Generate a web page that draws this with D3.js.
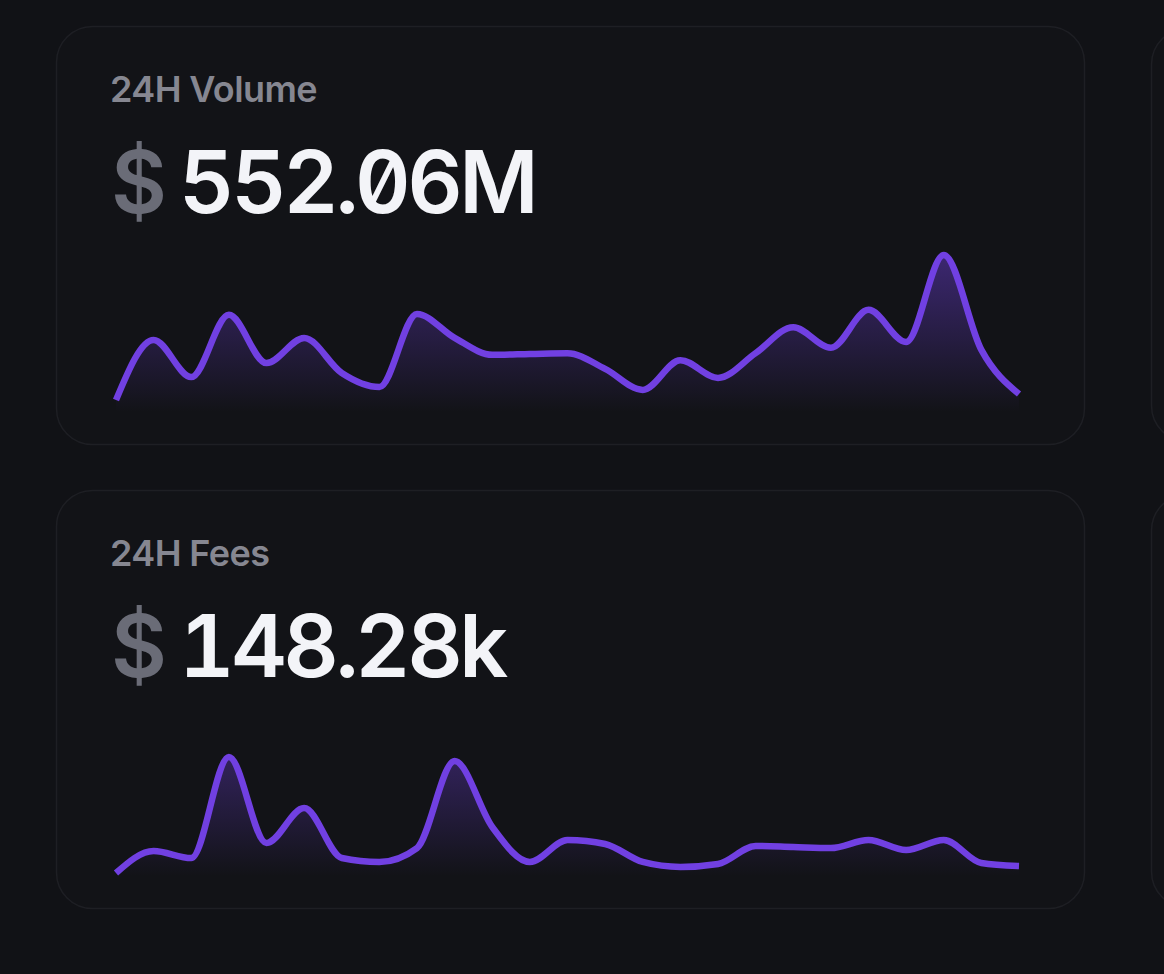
<!DOCTYPE html>
<html>
<head>
<meta charset="utf-8">
<script src="https://cdn.jsdelivr.net/npm/d3@7"></script>
<style>
  html, body { margin: 0; padding: 0; background: #111216; overflow: hidden; }
  svg { display: block; }
  .total { font-feature-settings: "tnum" 1, "zero" 1; }
</style>
</head>
<body>
<script>
// ---- data ----
const hours = ["00","01","02","03","04","05","06","07","08","09","10","11","12",
               "13","14","15","16","17","18","19","20","21","22","23","24"];
const cardTitles = ["24H Volume", "24H Fees"];
const cardTotals = ["552.06M", "148.28k"];
// hourly volume, $M
const volumeValues = [4.85, 19.4, 10.4, 25.5, 13.8, 19.9, 11.4, 8.0, 25.7, 19.9, 15.8, 16.0, 16.2,
                      12.4, 7.3, 14.5, 10.2, 16.2, 22.5, 17.5, 26.7, 18.9, 40.0, 17.0, 6.3];
// hourly fees, $k
const feesValues = [1.33, 4.0, 3.15, 15.4, 4.97, 9.21, 3.15, 2.67, 4.36, 14.9, 6.91, 2.67, 5.33,
                    4.85, 2.67, 2.06, 2.42, 4.61, 4.48, 4.36, 5.33, 4.12, 5.33, 2.55, 2.18];
const yMaxes = [40, 20];

// ---- layout ----
const W = 1164, H = 974;
const cardX = 56, cardW = 1028, cardH = 418, cardR = 36;
const cardTops = [26, 490];
const series = [volumeValues, feesValues];

const svg = d3.select("body").append("svg").attr("width", W).attr("height", H);
svg.append("rect").attr("width", W).attr("height", H).attr("fill", "#111216");

const defs = svg.append("defs");

// partial cards on the right edge
[[28, 413], [494, 413]].forEach(([y, h]) => {
  svg.append("rect").attr("x", 1151.5).attr("y", y + 0.5).attr("width", 200).attr("height", h)
    .attr("rx", cardR).attr("fill", "#121317").attr("stroke", "#1e1f24").attr("stroke-width", 1.5);
});

const x = d3.scalePoint().domain(hours).range([116, 1019]);

cardTops.forEach((top, i) => {
  const g = svg.append("g").attr("transform", `translate(0,${top})`);
  g.append("rect").attr("x", cardX + 0.5).attr("y", 0.5).attr("width", cardW).attr("height", cardH)
    .attr("rx", cardR).attr("fill", "#121317").attr("stroke", "#1e1f24").attr("stroke-width", 1.5);

  g.append("text").attr("x", 110).attr("y", 76)
    .attr("font-family", "Inter, 'Noto Sans', sans-serif").attr("font-weight", 600)
    .attr("font-size", 36).attr("letter-spacing", -0.6).attr("fill", "#868791")
    .text(cardTitles[i]);

  g.append("text").attr("x", 111).attr("y", 187)
    .attr("font-family", "Inter, 'Noto Sans', sans-serif").attr("font-weight", 600)
    .attr("font-size", 86).attr("fill", "#6a6c77")
    .text("$");

  g.append("text").attr("class", "total").attr("x", 179).attr("y", 187)
    .attr("font-family", "Inter, 'Noto Sans', sans-serif").attr("font-weight", 600)
    .attr("font-size", 86).attr("letter-spacing", -3.5).attr("fill", "#f3f4f8")
    .text(cardTotals[i]);

  const y = d3.scaleLinear().domain([0, yMaxes[i]]).range([394, 229]);

  const gid = "grad" + i;
  const grad = defs.append("linearGradient").attr("id", gid)
    .attr("gradientUnits", "userSpaceOnUse")
    .attr("x1", 0).attr("x2", 0).attr("y1", 229).attr("y2", 386);
  grad.append("stop").attr("offset", 0).attr("stop-color", "#7040e0").attr("stop-opacity", 0.45);
  grad.append("stop").attr("offset", 1).attr("stop-color", "#7040e0").attr("stop-opacity", 0);

  const data = hours.map((h, k) => ({ h, v: series[i][k] }));

  const area = d3.area().x(d => x(d.h)).y0(y(0)).y1(d => y(d.v)).curve(d3.curveMonotoneX);
  const line = d3.line().x(d => x(d.h)).y(d => y(d.v)).curve(d3.curveMonotoneX);

  g.append("path").datum(data).attr("d", area).attr("fill", `url(#${gid})`);
  g.append("path").datum(data).attr("d", line).attr("fill", "none")
    .attr("stroke", "#7140e2").attr("stroke-width", 6.5).attr("stroke-linejoin", "round");
});
</script>
</body>
</html>
